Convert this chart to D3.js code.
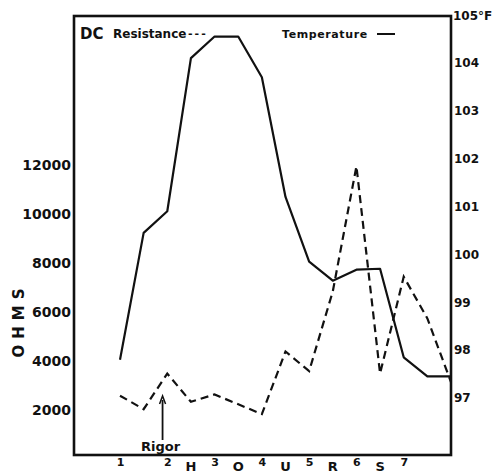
<!DOCTYPE html>
<html><head><meta charset="utf-8">
<script src="https://cdn.jsdelivr.net/npm/d3@7"></script>
<style>body{margin:0;background:#fff}svg{display:block}text{font-family:"DejaVu Sans",sans-serif;font-weight:bold;fill:#111}</style>
</head><body>
<script>
// Data (hours after death)
const tempHours = [1,1.5,2,2.5,3,3.5,4,4.5,5,5.5,6,6.5,7,7.5,8];
const tempValues = [97.8,100.45,100.9,104.1,104.55,104.55,103.7,101.2,99.85,99.45,99.68,99.7,97.85,97.45,97.45];
const resHours = [1,1.5,2,2.5,3,4,4.5,5,5.5,6,6.5,7,7.5,8];
const resValues = [2600,2050,3500,2350,2650,1850,4400,3600,6850,11950,3500,7450,5750,3150];
const ohmTicks = [2000,4000,6000,8000,10000,12000];
const tempTicks = [97,98,99,100,101,102,103,104];
const hourTicks = [1,2,3,4,5,6,7];
const hourLetters = [["H",2.5],["O",3.5],["U",4.5],["R",5.5],["S",6.5]];

const W=493,H=474;
const frame={l:74,r:451,t:16,b:455};
const svg=d3.select("body").append("svg").attr("width",W).attr("height",H);

const x=d3.scaleLinear().domain([1,8]).range([120,451]);
const yR=d3.scaleLinear().domain([0,12000]).range([459.5,165]);
const yT=d3.scaleLinear().domain([97,105]).range([398,15]);

// frame
svg.append("rect").attr("x",frame.l).attr("y",frame.t).attr("width",frame.r-frame.l).attr("height",frame.b-frame.t)
  .attr("fill","none").attr("stroke","#111").attr("stroke-width",2.6);

// left axis labels
const gl=svg.append("g").attr("transform",`translate(${frame.l},0)`);
gl.call(d3.axisLeft(yR).tickValues(ohmTicks).tickSize(0).tickPadding(3).tickFormat(d3.format("d")));
gl.select(".domain").remove();
gl.selectAll("text").style("font-size","14px").attr("fill","#111").style("font-family","DejaVu Sans").style("font-weight","bold");

// right axis labels
const gr=svg.append("g").attr("transform",`translate(${frame.r},0)`);
gr.call(d3.axisRight(yT).tickValues(tempTicks).tickSize(0).tickPadding(3).tickFormat(d3.format("d")));
gr.select(".domain").remove();
gr.selectAll("text").style("font-size","12px").attr("fill","#111").style("font-family","DejaVu Sans").style("font-weight","bold");
svg.append("text").attr("x",frame.r+2).attr("y",yT(105)+5).style("font-size","12px").text("105°F");

// bottom hour numbers and letters
const gb=svg.append("g").attr("transform",`translate(0,${frame.b})`);
gb.call(d3.axisBottom(x).tickValues(hourTicks).tickSize(0).tickPadding(3).tickFormat(d3.format("d")));
gb.select(".domain").remove();
gb.selectAll("text").style("font-size","11px").attr("fill","#111").style("font-family","DejaVu Sans").style("font-weight","bold");
svg.selectAll("text.hl").data(hourLetters).enter().append("text").attr("class","hl")
  .attr("x",d=>x(d[1])).attr("y",471).attr("text-anchor","middle").style("font-size","13px").text(d=>d[0]);

// OHMS label
svg.append("text").attr("transform","translate(24,320) rotate(-90)").attr("text-anchor","middle")
  .style("font-size","15px").style("letter-spacing","6px").text("OHMS");

// lines
const lineT=d3.line().x((d,i)=>x(tempHours[i])).y(d=>yT(d));
svg.append("path").attr("d",lineT(tempValues)).attr("fill","none").attr("stroke","#111").attr("stroke-width",2.2).attr("stroke-linejoin","round");
const lineR=d3.line().x((d,i)=>x(resHours[i])).y(d=>yR(d));
svg.append("path").attr("d",lineR(resValues)).attr("fill","none").attr("stroke","#111").attr("stroke-width",2.2).attr("stroke-dasharray","8,5");

// legend
svg.append("text").attr("x",80).attr("y",39).style("font-size","15px").text("DC");
svg.append("text").attr("x",113).attr("y",38).style("font-size","12px").text("Resistance");
svg.append("text").attr("x",188).attr("y",37).style("font-size","11px").style("letter-spacing","2px").text("---");
svg.append("text").attr("x",282).attr("y",38).style("font-size","11px").style("letter-spacing","0.6px").text("Temperature");
svg.append("line").attr("x1",377).attr("x2",395).attr("y1",34).attr("y2",34).attr("stroke","#111").attr("stroke-width",2);

// Rigor annotation
const rx=x(1.9);
svg.append("line").attr("x1",rx).attr("x2",rx).attr("y1",440).attr("y2",400).attr("stroke","#111").attr("stroke-width",1.8);
svg.append("path").attr("d",`M${rx-3},${404}L${rx},${396}L${rx+3},${404}`).attr("fill","none").attr("stroke","#111").attr("stroke-width",1.5);
svg.append("text").attr("x",rx-2).attr("y",451).attr("text-anchor","middle").style("font-size","13px").text("Rigor");
</script>
</body></html>
